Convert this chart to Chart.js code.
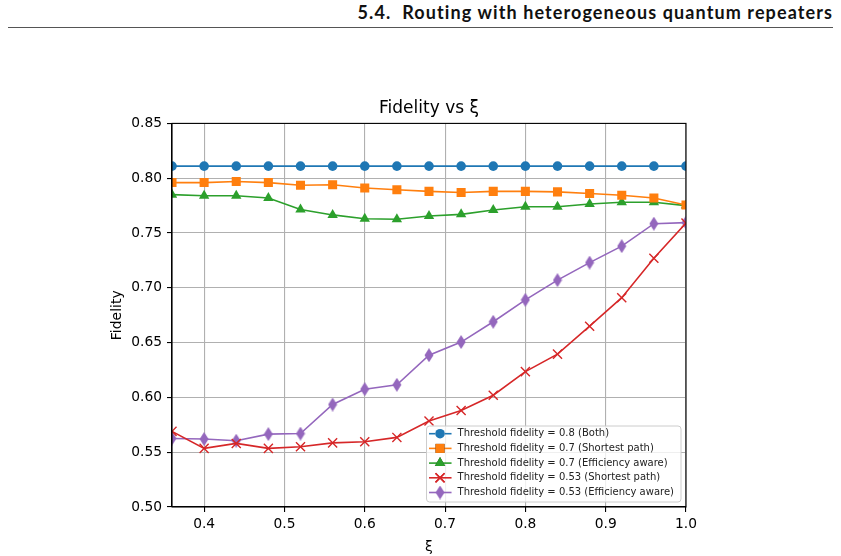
<!DOCTYPE html>
<html>
<head>
<meta charset="utf-8">
<script src="https://cdn.jsdelivr.net/npm/chart.js@4.4.1/dist/chart.umd.min.js"></script>
<style>
  body { margin: 0; background: #fff; }
  #wrap { position: relative; width: 841px; height: 556px; }
  #header {
    position: absolute; right: 8px; top: 1px;
    font-family: Lato, "Open Sans", sans-serif; font-weight: bold; font-size: 18px;
    letter-spacing: 1.1px;
    color: #111; white-space: pre;
  }
  #rule { position: absolute; left: 8px; width: 825px; top: 26.5px; height: 0; border-top: 1.6px solid #555; }
  #fidChart { position: absolute; left: 0; top: 0; }
</style>
</head>
<body>
<div id="wrap">
  <div id="header">5.4.  Routing with heterogeneous quantum repeaters</div>
  <div id="rule"></div>
  <canvas id="fidChart" width="841" height="556"></canvas>
</div>
<script>
// xi values on the x axis
const xiValues = [0.36, 0.40, 0.44, 0.48, 0.52, 0.56, 0.60, 0.64, 0.68, 0.72, 0.76, 0.80, 0.84, 0.88, 0.92, 0.96, 1.00];

// fidelity per threshold / routing variant
const fidBoth08   = [0.811, 0.811, 0.811, 0.811, 0.811, 0.811, 0.811, 0.811, 0.811, 0.811, 0.811, 0.811, 0.811, 0.811, 0.811, 0.811, 0.811];
const fidShort07  = [0.796, 0.796, 0.797, 0.796, 0.7935, 0.794, 0.791, 0.7895, 0.788, 0.787, 0.788, 0.788, 0.7875, 0.786, 0.7845, 0.782, 0.7755];
const fidEff07    = [0.785, 0.784, 0.784, 0.782, 0.7715, 0.7665, 0.763, 0.7625, 0.7655, 0.767, 0.771, 0.774, 0.774, 0.7765, 0.778, 0.778, 0.775];
const fidShort053 = [0.569, 0.5535, 0.558, 0.5535, 0.555, 0.5585, 0.5595, 0.5635, 0.5785, 0.588, 0.602, 0.6235, 0.6395, 0.665, 0.691, 0.727, 0.759];
const fidEff053   = [0.5625, 0.562, 0.5605, 0.5665, 0.567, 0.5935, 0.6075, 0.6115, 0.6385, 0.6505, 0.669, 0.689, 0.707, 0.723, 0.738, 0.7585, 0.7595];

const seriesLabels = [
    'Threshold fidelity = 0.8 (Both)',
    'Threshold fidelity = 0.7 (Shortest path)',
    'Threshold fidelity = 0.7 (Efficiency aware)',
    'Threshold fidelity = 0.53 (Shortest path)',
    'Threshold fidelity = 0.53 (Efficiency aware)'
];

const xTicks = [0.4, 0.5, 0.6, 0.7, 0.8, 0.9, 1.0];
const yTicks = [0.50, 0.55, 0.60, 0.65, 0.70, 0.75, 0.80, 0.85];

// thin diamond marker (matplotlib 'd'), Chart.js doesn't have one
function thinDiamond(color) {
    const c = document.createElement('canvas');
    c.width = 10; c.height = 14;
    const g = c.getContext('2d');
    g.fillStyle = color;
    g.beginPath();
    g.moveTo(5, 0); g.lineTo(9.5, 7); g.lineTo(5, 14); g.lineTo(0.5, 7);
    g.closePath();
    g.fill();
    return c;
}

function toPoints(vals) {
    return vals.map((v, i) => ({ x: xiValues[i], y: v }));
}

function makeSet(label, vals, color, style, radius) {
    return {
        label: label,
        data: toPoints(vals),
        borderColor: color,
        backgroundColor: color,
        borderWidth: 1.6,
        pointStyle: style,
        pointRadius: radius,
        pointHoverRadius: radius,
        pointBorderWidth: style === 'crossRot' ? 1.4 : 0,
        pointBorderColor: color,
        tension: 0
    };
}

// axes frame + legend box in lower right corner of the plot
const frameAndLegend = {
    id: 'frameAndLegend',
    afterDatasetsDraw(chart) {
        const ctx = chart.ctx;
        const a = chart.chartArea;
        ctx.save();
        ctx.strokeStyle = '#000';
        ctx.lineWidth = 1.1;
        ctx.strokeRect(a.left, a.top, a.right - a.left, a.bottom - a.top);

        ctx.font = '10px "DejaVu Sans"';
        let tw = 0;
        chart.data.datasets.forEach(ds => { tw = Math.max(tw, ctx.measureText(ds.label).width); });
        const boxW = 31 + tw + 7;
        const rowH = 14.7;
        const boxH = 7.7 + rowH * (chart.data.datasets.length - 1) + 9.5;
        const bx = a.right - 5 - boxW;
        const by = a.bottom - 5 - boxH;

        ctx.globalAlpha = 0.8;
        ctx.fillStyle = '#fff';
        ctx.beginPath();
        ctx.roundRect(bx, by, boxW, boxH, 3);
        ctx.fill();
        ctx.globalAlpha = 1;
        ctx.strokeStyle = '#cccccc';
        ctx.lineWidth = 1;
        ctx.stroke();

        chart.data.datasets.forEach((ds, i) => {
            const yy = by + 7.7 + i * rowH;
            ctx.strokeStyle = ds.borderColor;
            ctx.lineWidth = ds.borderWidth;
            ctx.beginPath();
            ctx.moveTo(bx + 2.5, yy);
            ctx.lineTo(bx + 25, yy);
            ctx.stroke();
            Chart.helpers.drawPoint(ctx, {
                pointStyle: ds.pointStyle,
                radius: ds.pointRadius,
                borderWidth: ds.pointBorderWidth,
                rotation: 0
            }, bx + 13.5, yy);
            ctx.fillStyle = ds.backgroundColor;
            ctx.strokeStyle = ds.borderColor;
            ctx.lineWidth = ds.pointBorderWidth;
            if (ds.pointStyle === 'crossRot') ctx.stroke(); else ctx.fill();
            ctx.fillStyle = '#222';
            ctx.textBaseline = 'middle';
            ctx.textAlign = 'left';
            ctx.fillText(ds.label, bx + 31, yy);
        });
        ctx.restore();
    }
};

const ctx = document.getElementById('fidChart').getContext('2d');
new Chart(ctx, {
    type: 'line',
    data: {
        datasets: [
            makeSet(seriesLabels[0], fidBoth08, '#1f77b4', 'circle', 4.8),
            makeSet(seriesLabels[1], fidShort07, '#ff7f0e', 'rect', 6.4),
            makeSet(seriesLabels[2], fidEff07, '#2ca02c', 'triangle', 6),
            makeSet(seriesLabels[3], fidShort053, '#d62728', 'crossRot', 6.4),
            makeSet(seriesLabels[4], fidEff053, '#9467bd', thinDiamond('#9467bd'), 6)
        ]
    },
    options: {
        responsive: false,
        animation: false,
        events: [],
        layout: { padding: { left: 100, right: 155, top: 90, bottom: 0 } },
        plugins: {
            legend: { display: false },
            tooltip: { enabled: false },
            title: {
                display: true,
                text: 'Fidelity vs ξ',
                fullSize: false,
                color: '#000',
                font: { family: 'DejaVu Sans', size: 17, weight: 'normal' },
                padding: { top: 8, bottom: 5 }
            }
        },
        scales: {
            x: {
                type: 'linear',
                min: 0.36,
                max: 1.0,
                afterBuildTicks: s => { s.ticks = xTicks.map(v => ({ value: v })); },
                afterFit: s => { s.height = 49; },
                grid: { color: '#b0b0b0', lineWidth: 1.1, tickColor: '#000', tickLength: 5 },
                border: { color: '#000', width: 1.1 },
                ticks: {
                    color: '#000',
                    padding: 4,
                    maxRotation: 0,
                    font: { family: 'DejaVu Sans', size: 13.8 },
                    callback: v => v.toFixed(1)
                },
                title: {
                    display: true,
                    text: 'ξ',
                    color: '#000',
                    font: { family: 'DejaVu Sans', size: 14 },
                    padding: { top: 3, bottom: 0 }
                }
            },
            y: {
                min: 0.50,
                max: 0.85,
                afterBuildTicks: s => { s.ticks = yTicks.map(v => ({ value: v })); },
                afterFit: s => { s.width = 72; },
                grid: { color: '#b0b0b0', lineWidth: 1.1, tickColor: '#000', tickLength: 5 },
                border: { color: '#000', width: 1.1 },
                ticks: {
                    color: '#000',
                    padding: 5,
                    font: { family: 'DejaVu Sans', size: 13.8 },
                    callback: v => v.toFixed(2)
                },
                title: {
                    display: true,
                    text: 'Fidelity',
                    color: '#000',
                    font: { family: 'DejaVu Sans', size: 14 },
                    padding: { top: 9, bottom: 0 }
                }
            }
        }
    },
    plugins: [frameAndLegend]
});
</script>
</body>
</html>
